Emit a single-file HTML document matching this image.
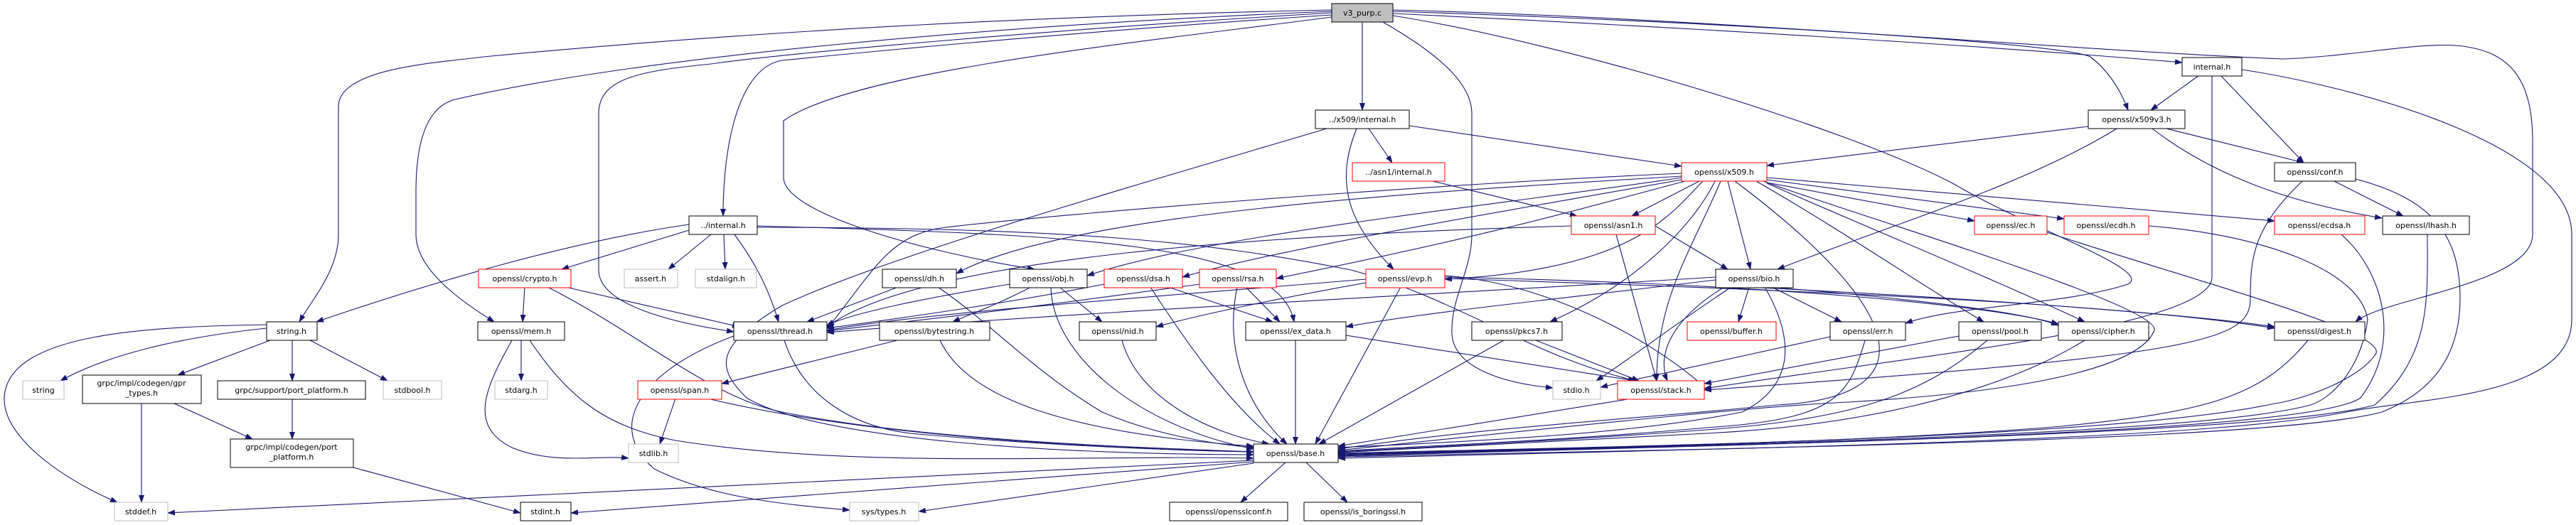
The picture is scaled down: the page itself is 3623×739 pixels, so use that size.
<!DOCTYPE html>
<html><head><meta charset="utf-8"><style>
html,body{margin:0;padding:0;background:#fff;}
svg{display:block;}
text{font-family:"DejaVu Sans","Liberation Sans",sans-serif;font-size:11px;fill:#000;}
.e{fill:none;stroke:#191970;stroke-width:1.1;marker-end:url(#a);}
</style></head><body>
<svg width="3623" height="739" viewBox="0 0 3623 739" xmlns="http://www.w3.org/2000/svg">
<defs><marker id="a" markerUnits="userSpaceOnUse" markerWidth="11" markerHeight="8" refX="10" refY="4" orient="auto"><path d="M0,0 L11,4 L0,8 z" fill="#191970"/></marker></defs>
<g>
<path class="e" d="M1873,14 C1500,22 1100,40 680,80 C620,88 476,95 476,150 L476,330 C476,380 440,420 421,453"/>
<path class="e" d="M1873,16 C1400,35 900,80 640,140 C600,150 585,200 585,270 L585,330 C585,380 650,425 695,453"/>
<path class="e" d="M1873,18 C1500,40 1100,75 1000,90 C900,100 842,110 842,160 L842,380 C842,430 950,455 1032,467"/>
<path class="e" d="M1873,21 C1500,45 1150,80 1100,85 C1040,95 1017,200 1017,304"/>
<path class="e" d="M1873,24 C1600,60 1200,100 1102,170 L1102,250 C1102,300 1300,355 1455,379"/>
<path class="e" d="M1916,31 L1916,155"/>
<path class="e" d="M1945,31 C2030,80 2070,120 2070,160 L2070,330 C2070,380 2040,420 2042,470 C2045,520 2120,540 2184,546"/>
<path class="e" d="M1959,22 C2200,60 2600,180 2750,260 C2850,320 3030,380 2993,400 C2900,430 2750,430 2680,455"/>
<path class="e" d="M1959,19 C2400,40 2800,65 3069,88"/>
<path class="e" d="M1959,16 C2400,30 2900,60 2940,80 C2960,95 2980,120 2993,155"/>
<path class="e" d="M1959,14 C2400,25 2900,70 3211,83 C3300,80 3400,60 3453,64 C3530,70 3562,110 3562,200 L3562,330 C3562,400 3350,420 3313,453"/>
<path class="e" d="M1866,181 C1600,260 1250,360 1100,430 C1000,490 1010,520 1050,560 C1150,620 1500,640 1763,640"/>
<path class="e" d="M1925,181 L1958,229"/>
<path class="e" d="M1908,181 C1880,250 1890,310 1960,379"/>
<path class="e" d="M1982,177 L2365,234"/>
<path class="e" d="M2015,255 L2218,304"/>
<path class="e" d="M2390,255 L2295,304"/>
<path class="e" d="M2430,255 L2462,379"/>
<path class="e" d="M2365,248 C2000,270 1500,300 1345,385"/>
<path class="e" d="M2365,250 C2100,290 1700,330 1529,388"/>
<path class="e" d="M2365,253 C2100,300 1800,350 1663,390"/>
<path class="e" d="M2370,255 C2200,300 2100,330 1795,392"/>
<path class="e" d="M2395,255 C2350,300 2300,380 2032,393"/>
<path class="e" d="M2365,244 C2000,260 1500,300 1330,320 C1250,330 1230,380 1163,463"/>
<path class="e" d="M2412,255 C2380,320 2300,400 2180,453"/>
<path class="e" d="M2420,255 C2380,350 2330,420 2330,536"/>
<path class="e" d="M2440,255 C2700,450 2700,560 2500,570 C2300,590 2100,600 1882,632"/>
<path class="e" d="M2485,257 L2777,311"/>
<path class="e" d="M2485,253 L2903,308"/>
<path class="e" d="M2485,250 L3199,311"/>
<path class="e" d="M2470,255 C2600,330 2700,400 2790,453"/>
<path class="e" d="M2485,258 C2650,330 2820,400 2932,453"/>
<path class="e" d="M2480,255 C2600,300 3040,430 3030,465 C3000,540 2700,560 2600,566 C2500,570 2300,590 1882,634"/>
<path class="e" d="M2937,178 L2485,233"/>
<path class="e" d="M2977,181 C2850,260 2650,320 2500,379"/>
<path class="e" d="M3047,181 L3240,229"/>
<path class="e" d="M3027,181 C3130,260 3250,290 3350,307"/>
<path class="e" d="M3093,106 L3025,155"/>
<path class="e" d="M3123,106 L3240,229"/>
<path class="e" d="M3111,106 L3111,390 C3111,460 2700,500 2397,547"/>
<path class="e" d="M3153,98 C3300,120 3617,200 3617,330 L3617,450 C3617,560 3400,560 3300,580 C3100,620 2500,630 1882,645"/>
<path class="e" d="M3283,255 L3380,304"/>
<path class="e" d="M3238,255 C3170,320 3165,360 3165,420 C3165,480 3100,500 2397,549"/>
<path class="e" d="M3313,252 C3420,280 3460,330 3460,420 C3460,520 3400,560 3350,580 C3200,620 2500,630 1882,643"/>
<path class="e" d="M3414,330 C3414,420 3420,500 3340,570 C3200,610 2500,625 1882,642"/>
<path class="e" d="M3293,330 C3350,380 3380,480 3320,560 C3250,610 2500,625 1882,641"/>
<path class="e" d="M3022,318 C3180,330 3320,380 3330,450 C3320,520 3280,560 3250,570 C3100,610 2500,625 1882,640"/>
<path class="e" d="M2879,327 C3100,400 3370,470 3340,500 C3320,530 3250,560 3200,568 C3000,610 2500,625 1882,639"/>
<path class="e" d="M3246,479 C3180,560 3100,580 2900,600 C2600,625 2200,630 1882,638"/>
<path class="e" d="M2932,479 C2800,560 2600,600 2400,610 C2200,620 2000,630 1882,637"/>
<path class="e" d="M2795,479 C2700,560 2600,590 2400,605 C2200,620 2000,630 1882,636"/>
<path class="e" d="M2755,473 L2397,540"/>
<path class="e" d="M2623,479 C2600,560 2580,590 2400,602 C2200,620 2000,628 1882,635"/>
<path class="e" d="M2574,474 L2251,545"/>
<path class="e" d="M2460,404 L2445,453"/>
<path class="e" d="M2492,404 L2590,453"/>
<path class="e" d="M2425,404 C2350,450 2330,500 2345,536"/>
<path class="e" d="M2435,404 C2350,460 2300,500 2245,536"/>
<path class="e" d="M2482,404 C2520,470 2530,540 2450,580 C2300,610 2100,620 1882,630"/>
<path class="e" d="M2413,390 C2100,410 1500,440 1163,468"/>
<path class="e" d="M2413,394 C2200,420 2000,440 1893,460"/>
<path class="e" d="M2413,398 C2700,420 2850,440 2895,458"/>
<path class="e" d="M2413,402 C2800,420 3100,445 3199,460"/>
<path class="e" d="M2328,318 L2430,379"/>
<path class="e" d="M2273,330 L2330,536"/>
<path class="e" d="M2210,318 C1800,330 1300,360 1163,460"/>
<path class="e" d="M1921,393 C1600,420 1300,440 1163,465"/>
<path class="e" d="M1921,398 C1800,420 1700,440 1626,460"/>
<path class="e" d="M1970,404 L1850,625"/>
<path class="e" d="M2032,388 C2200,400 2350,500 2397,545"/>
<path class="e" d="M2032,392 C2600,410 3000,430 3199,462"/>
<path class="e" d="M2032,390 C2500,400 2800,430 2895,456"/>
<path class="e" d="M1263,404 L1135,453"/>
<path class="e" d="M1319,404 C1400,460 1450,520 1550,580 C1620,610 1700,625 1763,630"/>
<path class="e" d="M1450,404 C1400,430 1370,440 1340,453"/>
<path class="e" d="M1490,404 L1550,453"/>
<path class="e" d="M1420,400 C1300,420 1200,440 1163,458"/>
<path class="e" d="M1478,404 C1480,500 1600,600 1763,632"/>
<path class="e" d="M1553,400 C1400,430 1250,450 1163,462"/>
<path class="e" d="M1643,404 L1790,453"/>
<path class="e" d="M1618,404 C1680,500 1740,580 1800,625"/>
<path class="e" d="M1687,400 C1400,440 1250,455 1163,466"/>
<path class="e" d="M1752,404 L1800,453"/>
<path class="e" d="M1740,404 C1720,500 1760,580 1810,625"/>
<path class="e" d="M1262,479 L1015,540"/>
<path class="e" d="M1322,479 C1360,560 1500,610 1763,628"/>
<path class="e" d="M1578,479 C1600,560 1700,610 1785,625"/>
<path class="e" d="M1822,479 L1822,625"/>
<path class="e" d="M1893,472 L2300,536"/>
<path class="e" d="M2115,479 L1855,625"/>
<path class="e" d="M2160,479 L2305,536"/>
<path class="e" d="M2295,561 L1882,628"/>
<path class="e" d="M1103,479 C1130,560 1200,600 1280,610 C1500,630 1700,635 1763,636"/>
<path class="e" d="M1040,470 C900,520 850,600 920,660 C1000,700 1100,710 1195,718"/>
<path class="e" d="M738,404 L735,453"/>
<path class="e" d="M795,404 L1040,460"/>
<path class="e" d="M770,404 C900,470 1000,560 1100,580 C1300,620 1600,630 1763,636"/>
<path class="e" d="M969,324 L790,379"/>
<path class="e" d="M1000,330 L940,379"/>
<path class="e" d="M1018,330 L1020,379"/>
<path class="e" d="M1033,330 C1070,380 1085,420 1095,453"/>
<path class="e" d="M969,316 C800,340 600,400 445,453"/>
<path class="e" d="M1065,318 C1500,330 1800,340 1820,453"/>
<path class="e" d="M1065,320 C1500,320 1700,340 1900,380 C2050,420 2150,500 2300,536"/>
<path class="e" d="M375,462 C250,475 150,500 85,536"/>
<path class="e" d="M380,479 L250,528"/>
<path class="e" d="M411,479 L411,536"/>
<path class="e" d="M436,479 L545,536"/>
<path class="e" d="M375,457 C200,460 10,470 6,560 C4,620 100,680 165,707"/>
<path class="e" d="M733,479 L733,536"/>
<path class="e" d="M720,479 C680,550 660,600 720,630 C780,655 840,640 884,645"/>
<path class="e" d="M745,479 C800,560 850,600 950,620 C1200,660 1500,640 1763,645"/>
<path class="e" d="M199,568 L199,707"/>
<path class="e" d="M245,568 L355,618"/>
<path class="e" d="M411,562 L411,618"/>
<path class="e" d="M497,658 L732,722"/>
<path class="e" d="M950,561 L928,625"/>
<path class="e" d="M995,561 C1200,610 1500,630 1763,636"/>
<path class="e" d="M1763,648 L236,722"/>
<path class="e" d="M1763,650 L803,722"/>
<path class="e" d="M1763,652 L1292,720"/>
<path class="e" d="M1808,651 L1745,707"/>
<path class="e" d="M1837,651 L1895,707"/>
</g>
<g font-size="11">
<rect x="1873" y="5" width="86" height="26" fill="#bfbfbf" stroke="#000"/><text x="1916" y="22" text-anchor="middle">v3_purp.c</text>
<rect x="3069" y="81" width="84" height="26" fill="#fff" stroke="#000"/><text x="3111" y="98" text-anchor="middle">internal.h</text>
<rect x="1850" y="155" width="132" height="26" fill="#fff" stroke="#000"/><text x="1916" y="172" text-anchor="middle">../x509/internal.h</text>
<rect x="2937" y="155" width="136" height="26" fill="#fff" stroke="#000"/><text x="3005" y="172" text-anchor="middle">openssl/x509v3.h</text>
<rect x="1902" y="229" width="130" height="26" fill="#fff" stroke="red"/><text x="1967" y="246" text-anchor="middle">../asn1/internal.h</text>
<rect x="2365" y="229" width="120" height="26" fill="#fff" stroke="red"/><text x="2425" y="246" text-anchor="middle">openssl/x509.h</text>
<rect x="3199" y="229" width="114" height="26" fill="#fff" stroke="#000"/><text x="3256" y="246" text-anchor="middle">openssl/conf.h</text>
<rect x="969" y="304" width="96" height="26" fill="#fff" stroke="#000"/><text x="1017" y="321" text-anchor="middle">../internal.h</text>
<rect x="2210" y="304" width="118" height="26" fill="#fff" stroke="red"/><text x="2269" y="321" text-anchor="middle">openssl/asn1.h</text>
<rect x="2777" y="304" width="102" height="26" fill="#fff" stroke="red"/><text x="2828" y="321" text-anchor="middle">openssl/ec.h</text>
<rect x="2903" y="304" width="119" height="26" fill="#fff" stroke="red"/><text x="2962" y="321" text-anchor="middle">openssl/ecdh.h</text>
<rect x="3199" y="304" width="127" height="26" fill="#fff" stroke="red"/><text x="3262" y="321" text-anchor="middle">openssl/ecdsa.h</text>
<rect x="3351" y="304" width="122" height="26" fill="#fff" stroke="#000"/><text x="3412" y="321" text-anchor="middle">openssl/lhash.h</text>
<rect x="673" y="379" width="130" height="26" fill="#fff" stroke="red"/><text x="738" y="396" text-anchor="middle">openssl/crypto.h</text>
<rect x="878" y="379" width="75" height="26" fill="#fff" stroke="#bfbfbf"/><text x="915" y="396" text-anchor="middle">assert.h</text>
<rect x="978" y="379" width="86" height="26" fill="#fff" stroke="#bfbfbf"/><text x="1021" y="396" text-anchor="middle">stdalign.h</text>
<rect x="1241" y="379" width="104" height="26" fill="#fff" stroke="#000"/><text x="1293" y="396" text-anchor="middle">openssl/dh.h</text>
<rect x="1420" y="379" width="109" height="26" fill="#fff" stroke="#000"/><text x="1474" y="396" text-anchor="middle">openssl/obj.h</text>
<rect x="1553" y="379" width="110" height="26" fill="#fff" stroke="red"/><text x="1608" y="396" text-anchor="middle">openssl/dsa.h</text>
<rect x="1687" y="379" width="108" height="26" fill="#fff" stroke="red"/><text x="1741" y="396" text-anchor="middle">openssl/rsa.h</text>
<rect x="1921" y="379" width="111" height="26" fill="#fff" stroke="red"/><text x="1976" y="396" text-anchor="middle">openssl/evp.h</text>
<rect x="2413" y="379" width="109" height="26" fill="#fff" stroke="#000"/><text x="2467" y="396" text-anchor="middle">openssl/bio.h</text>
<rect x="375" y="453" width="71" height="26" fill="#fff" stroke="#000"/><text x="410" y="470" text-anchor="middle">string.h</text>
<rect x="672" y="453" width="122" height="26" fill="#fff" stroke="#000"/><text x="733" y="470" text-anchor="middle">openssl/mem.h</text>
<rect x="1032" y="453" width="131" height="26" fill="#fff" stroke="#000"/><text x="1097" y="470" text-anchor="middle">openssl/thread.h</text>
<rect x="1237" y="453" width="155" height="26" fill="#fff" stroke="#000"/><text x="1314" y="470" text-anchor="middle">openssl/bytestring.h</text>
<rect x="1518" y="453" width="108" height="26" fill="#fff" stroke="#000"/><text x="1572" y="470" text-anchor="middle">openssl/nid.h</text>
<rect x="1752" y="453" width="141" height="26" fill="#fff" stroke="#000"/><text x="1822" y="470" text-anchor="middle">openssl/ex_data.h</text>
<rect x="2070" y="453" width="127" height="26" fill="#fff" stroke="#000"/><text x="2133" y="470" text-anchor="middle">openssl/pkcs7.h</text>
<rect x="2373" y="453" width="125" height="26" fill="#fff" stroke="red"/><text x="2435" y="470" text-anchor="middle">openssl/buffer.h</text>
<rect x="2574" y="453" width="106" height="26" fill="#fff" stroke="#000"/><text x="2627" y="470" text-anchor="middle">openssl/err.h</text>
<rect x="2755" y="453" width="116" height="26" fill="#fff" stroke="#000"/><text x="2813" y="470" text-anchor="middle">openssl/pool.h</text>
<rect x="2895" y="453" width="127" height="26" fill="#fff" stroke="#000"/><text x="2958" y="470" text-anchor="middle">openssl/cipher.h</text>
<rect x="3199" y="453" width="127" height="26" fill="#fff" stroke="#000"/><text x="3262" y="470" text-anchor="middle">openssl/digest.h</text>
<rect x="32" y="536" width="58" height="26" fill="#fff" stroke="#bfbfbf"/><text x="61" y="553" text-anchor="middle">string</text>
<rect x="116" y="528" width="167" height="40" fill="#fff" stroke="#000"/><text x="199" y="543" text-anchor="middle">grpc/impl/codegen/gpr</text><text x="199" y="557" text-anchor="middle">_types.h</text>
<rect x="306" y="536" width="208" height="26" fill="#fff" stroke="#000"/><text x="410" y="553" text-anchor="middle">grpc/support/port_platform.h</text>
<rect x="539" y="536" width="82" height="26" fill="#fff" stroke="#bfbfbf"/><text x="580" y="553" text-anchor="middle">stdbool.h</text>
<rect x="696" y="536" width="74" height="26" fill="#fff" stroke="#bfbfbf"/><text x="733" y="553" text-anchor="middle">stdarg.h</text>
<rect x="897" y="536" width="118" height="26" fill="#fff" stroke="red"/><text x="956" y="553" text-anchor="middle">openssl/span.h</text>
<rect x="2184" y="536" width="67" height="26" fill="#fff" stroke="#bfbfbf"/><text x="2217" y="553" text-anchor="middle">stdio.h</text>
<rect x="2275" y="536" width="122" height="26" fill="#fff" stroke="red"/><text x="2336" y="553" text-anchor="middle">openssl/stack.h</text>
<rect x="324" y="618" width="173" height="40" fill="#fff" stroke="#000"/><text x="410" y="633" text-anchor="middle">grpc/impl/codegen/port</text><text x="410" y="647" text-anchor="middle">_platform.h</text>
<rect x="884" y="625" width="70" height="26" fill="#fff" stroke="#bfbfbf"/><text x="919" y="642" text-anchor="middle">stdlib.h</text>
<rect x="1763" y="625" width="119" height="26" fill="#fff" stroke="#000"/><text x="1822" y="642" text-anchor="middle">openssl/base.h</text>
<rect x="161" y="707" width="75" height="26" fill="#fff" stroke="#bfbfbf"/><text x="198" y="724" text-anchor="middle">stddef.h</text>
<rect x="732" y="707" width="71" height="26" fill="#fff" stroke="#000"/><text x="767" y="724" text-anchor="middle">stdint.h</text>
<rect x="1195" y="707" width="97" height="26" fill="#fff" stroke="#bfbfbf"/><text x="1243" y="724" text-anchor="middle">sys/types.h</text>
<rect x="1645" y="707" width="166" height="26" fill="#fff" stroke="#000"/><text x="1728" y="724" text-anchor="middle">openssl/opensslconf.h</text>
<rect x="1834" y="707" width="166" height="26" fill="#fff" stroke="#000"/><text x="1917" y="724" text-anchor="middle">openssl/is_boringssl.h</text>
</g>
</svg>
</body></html>
